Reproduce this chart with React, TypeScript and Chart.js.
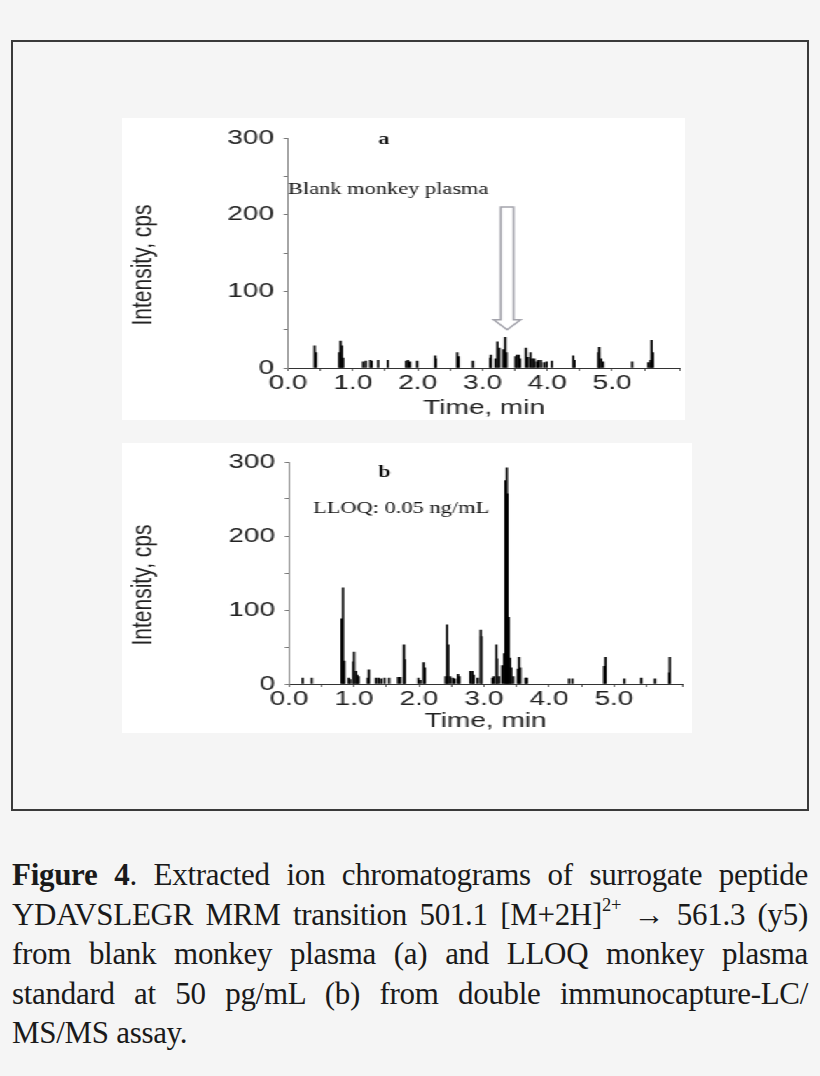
import React, { useEffect, useRef } from "react";
import { Chart, registerables } from "chart.js";

Chart.register(...registerables);

// ---------- data ----------
// Panel a: blank monkey plasma (time in min, intensity in cps)
const blankTimes = [0.41, 0.43, 0.79, 0.81, 0.83, 0.85, 1.16, 1.2, 1.27, 1.29, 1.39, 1.54, 1.82, 1.85, 1.88, 1.99, 2.27, 2.28, 2.61, 2.63, 2.85, 3.12, 3.13, 3.2, 3.23, 3.26, 3.32, 3.35, 3.37, 3.51, 3.53, 3.56, 3.58, 3.67, 3.7, 3.74, 3.77, 3.8, 3.84, 3.86, 3.9, 3.95, 3.99, 4.07, 4.4, 4.42, 4.79, 4.8, 4.83, 4.86, 5.31, 5.56, 5.59, 5.61, 5.63];
const blankIntensity = [29, 20, 20, 35, 29, 13, 8, 9, 10, 9, 10, 10, 9, 10, 8, 9, 16, 12, 20, 15, 9, 13, 17, 12, 34, 26, 24, 40, 20, 15, 17, 17, 12, 26, 14, 20, 12, 12, 8, 10, 10, 7, 8, 9, 16, 10, 20, 27, 12, 8, 8, 7, 10, 36, 20];

// Panel b: LLOQ monkey plasma standard
const lloqTimes = [0.21, 0.35, 0.81, 0.83, 0.85, 0.92, 0.94, 0.99, 1.0, 1.03, 1.05, 1.07, 1.21, 1.23, 1.34, 1.38, 1.42, 1.47, 1.54, 1.68, 1.71, 1.77, 1.78, 1.99, 2.02, 2.07, 2.09, 2.41, 2.43, 2.45, 2.48, 2.52, 2.55, 2.6, 2.62, 2.79, 2.82, 2.84, 2.9, 2.95, 2.96, 3.13, 3.15, 3.19, 3.2, 3.23, 3.28, 3.31, 3.33, 3.35, 3.36, 3.38, 3.4, 3.42, 3.45, 3.52, 3.54, 3.56, 3.64, 3.66, 4.31, 4.36, 4.85, 4.87, 5.16, 5.42, 5.63, 5.85, 5.86];
const lloqIntensity = [8, 8, 88, 130, 31, 8, 6, 30, 43, 17, 12, 10, 8, 19, 8, 8, 7, 8, 8, 9, 9, 53, 33, 8, 5, 29, 22, 10, 80, 53, 10, 8, 7, 13, 10, 17, 17, 12, 8, 73, 64, 8, 10, 53, 34, 10, 25, 41, 275, 292, 257, 90, 35, 22, 10, 20, 36, 22, 8, 8, 7, 7, 24, 36, 7, 8, 7, 15, 36];

// axes
const xMin = 0;
const xMax = 6.05;
const xStep = 0.5;
const xLabelMax = 5;
const yMin = 0;
const yMax = 300;
const yStep = 50;
const yLabelStep = 100;
const xTitle = "Time, min";
const yTitle = "Intensity, cps";

// annotations (data coordinates)
const panelALetter = { text: "a", x: 1.48, y: 298 };
const panelALabel = { text: "Blank monkey plasma", x: 0.0, y: 232 };
const panelAArrow = { x: 3.38, top: 210, headStart: 63, tip: 50 };
const panelBLetter = { text: "b", x: 1.47, y: 285 };
const panelBLabel = { text: "LLOQ: 0.05 ng/mL", x: 0.37, y: 237 };

// ---------- layout ----------
const STRETCH = 1.4; // original figure is stretched horizontally

type Note = { text: string; x: number; y: number };
type Arrow = { x: number; top: number; headStart: number; tip: number } | null;

type PanelProps = {
  times: number[];
  values: number[];
  left: number;
  top: number;
  width: number;
  height: number;
  plotLeft: number;
  plotRight: number;
  plotTop: number;
  axisHeight: number;
  letter: Note;
  label: Note;
  arrow: Arrow;
};

const SANS = "'Liberation Sans', Arial, sans-serif";
const SERIF = "'Liberation Serif', 'Times New Roman', serif";

function Panel(p: PanelProps) {
  const ref = useRef<HTMLCanvasElement | null>(null);
  const cw = Math.round(p.width / STRETCH);
  useEffect(() => {
    const canvas = ref.current;
    if (!canvas) return;
    const yAxisWidth = (p.plotLeft - p.left) / STRETCH;
    const padRight = cw - (p.plotRight - p.left) / STRETCH;

    const notesPlugin = {
      id: "notes",
      afterDraw(chart: any) {
        const ctx = chart.ctx as CanvasRenderingContext2D;
        const xs = chart.scales.x;
        const ys = chart.scales.y;
        const area = chart.chartArea;
        ctx.save();
        ctx.fillStyle = "#111";
        ctx.textBaseline = "middle";
        ctx.font = `bold 16px ${SERIF}`;
        ctx.textAlign = "center";
        ctx.fillText(p.letter.text, xs.getPixelForValue(p.letter.x), ys.getPixelForValue(p.letter.y));
        ctx.font = `16px ${SERIF}`;
        ctx.textAlign = "left";
        ctx.fillText(p.label.text, xs.getPixelForValue(p.label.x), ys.getPixelForValue(p.label.y));
        // y-axis title, sitting slightly below the plot's middle as in the original
        ctx.save();
        ctx.translate(15, (area.top + area.bottom) / 2 + 12);
        ctx.rotate(-Math.PI / 2);
        ctx.font = `21px ${SANS}`;
        ctx.fillStyle = "#222";
        ctx.textAlign = "center";
        ctx.textBaseline = "middle";
        ctx.fillText(yTitle, 0, 0);
        ctx.restore();
        if (p.arrow) {
          const cx = xs.getPixelForValue(p.arrow.x);
          const yt = ys.getPixelForValue(p.arrow.top);
          const yh = ys.getPixelForValue(p.arrow.headStart);
          const yp = ys.getPixelForValue(p.arrow.tip);
          const sw = 4.6;
          const hw = 9.6;
          ctx.beginPath();
          ctx.moveTo(cx - sw, yt);
          ctx.lineTo(cx + sw, yt);
          ctx.lineTo(cx + sw, yh);
          ctx.lineTo(cx + hw, yh);
          ctx.lineTo(cx, yp);
          ctx.lineTo(cx - hw, yh);
          ctx.lineTo(cx - sw, yh);
          ctx.closePath();
          ctx.fillStyle = "#ffffff";
          ctx.fill();
          ctx.strokeStyle = "#a4a4ac";
          ctx.lineWidth = 1.5;
          ctx.stroke();
        }
        ctx.restore();
      },
    };

    const isWhole = (v: number, step: number) => Math.abs(v / step - Math.round(v / step)) < 1e-6;

    const chart = new Chart(canvas, {
      type: "bar",
      data: {
        datasets: [
          {
            data: p.times.map((t, i) => ({ x: t, y: p.values[i] })),
            backgroundColor: "#000000",
            borderWidth: 0,
            barThickness: 1,
            grouped: false,
          } as any,
        ],
      },
      options: {
        responsive: false,
        animation: false,
        devicePixelRatio: 1,
        layout: { padding: { top: p.plotTop, right: padRight, left: 0, bottom: 0 } },
        plugins: { legend: { display: false }, tooltip: { enabled: false } },
        scales: {
          x: {
            type: "linear",
            min: xMin,
            max: xMax,
            offset: false,
            ticks: {
              stepSize: xStep,
              autoSkip: false,
              maxRotation: 0,
              padding: 0,
              color: "#222",
              font: { family: SANS, size: 20 },
              callback: (v: any) => (isWhole(v, 1) && v <= xLabelMax ? Number(v).toFixed(1) : ""),
            },
            grid: { display: true, drawOnChartArea: false, tickLength: 3, color: "#666", offset: false },
            border: { display: true, color: "#333", width: 1 },
            title: { display: true, text: xTitle, color: "#222", font: { family: SANS, size: 20 }, padding: 0 },
            afterFit: (s: any) => {
              s.height = p.axisHeight;
            },
          } as any,
          y: {
            type: "linear",
            min: yMin,
            max: yMax,
            ticks: {
              stepSize: yStep,
              padding: 7,
              color: "#222",
              font: { family: SANS, size: 20 },
              callback: (v: any) => (isWhole(v, yLabelStep) ? String(v) : ""),
            },
            grid: { display: true, drawOnChartArea: false, tickLength: 3, color: "#777" },
            border: { display: true, color: "#888", width: 1 },
            title: { display: false, text: yTitle },
            afterFit: (s: any) => {
              s.width = yAxisWidth;
            },
          } as any,
        },
      },
      plugins: [notesPlugin],
    });
    return () => chart.destroy();
  }, []);

  return (
    <div
      style={{
        position: "absolute",
        left: p.left,
        top: p.top,
        width: cw,
        height: p.height,
        background: "#ffffff",
        transform: `scaleX(${p.width / cw})`,
        transformOrigin: "0 0",
      }}
    >
      <canvas ref={ref} width={cw} height={p.height} style={{ display: "block", width: cw, height: p.height }} />
    </div>
  );
}

const captionLine: React.CSSProperties = {
  textAlign: "justify",
  textAlignLast: "justify" as any,
  whiteSpace: "nowrap",
};

export default function App() {
  return (
    <div
      style={{
        position: "absolute",
        left: 0,
        top: 0,
        width: 820,
        height: 1076,
        background: "#f5f5f5",
        overflow: "hidden",
      }}
    >
      <div
        style={{
          position: "absolute",
          left: 11,
          top: 40,
          width: 798,
          height: 771,
          boxSizing: "border-box",
          border: "2px solid #3a3a3a",
        }}
      />
      <Panel
        times={blankTimes}
        values={blankIntensity}
        left={122}
        top={118}
        width={563}
        height={302}
        plotLeft={288}
        plotRight={680}
        plotTop={20}
        axisHeight={52}
        letter={panelALetter}
        label={panelALabel}
        arrow={panelAArrow}
      />
      <Panel
        times={lloqTimes}
        values={lloqIntensity}
        left={122}
        top={443}
        width={570}
        height={290}
        plotLeft={289}
        plotRight={682}
        plotTop={13}
        axisHeight={49}
        letter={panelBLetter}
        label={panelBLabel}
        arrow={null}
      />
      <div
        style={{
          position: "absolute",
          left: 12,
          top: 855,
          width: 796,
          fontFamily: SERIF,
          fontSize: 31,
          lineHeight: "39.5px",
          color: "#1a1a1a",
          letterSpacing: "-0.3px",
        }}
      >
        <div style={captionLine}>
          <b>Figure 4</b>. Extracted ion chromatograms of surrogate peptide
        </div>
        <div style={captionLine}>
          YDAVSLEGR MRM transition 501.1 [M+2H]
          <span style={{ fontSize: "0.6em", position: "relative", top: "-0.75em", lineHeight: 0 }}>2+</span> → 561.3 (y5)
        </div>
        <div style={captionLine}>from blank monkey plasma (a) and LLOQ monkey plasma</div>
        <div style={captionLine}>standard at 50 pg/mL (b) from double immunocapture-LC/</div>
        <div>MS/MS assay.</div>
      </div>
    </div>
  );
}
